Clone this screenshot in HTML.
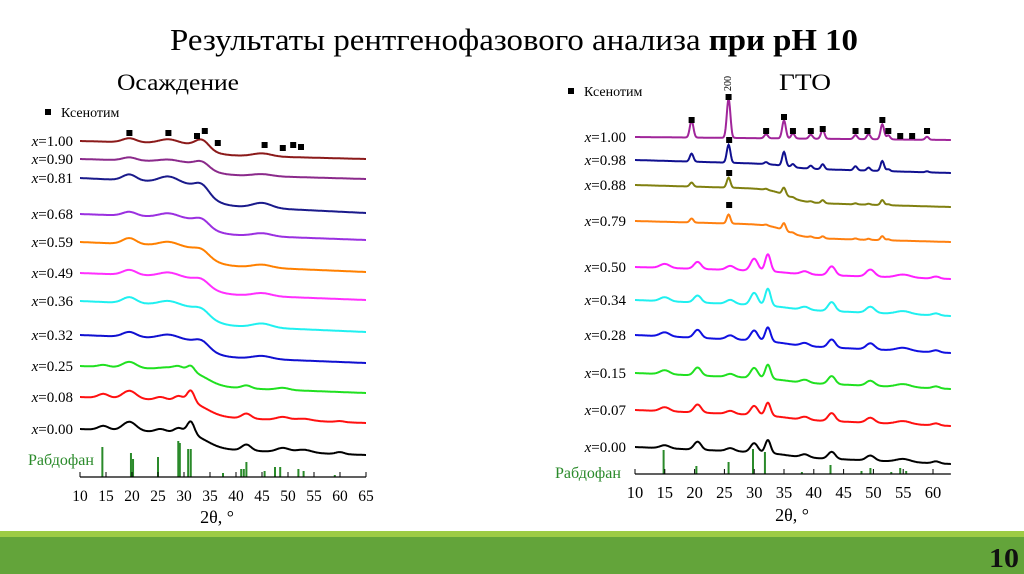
<!DOCTYPE html>
<html><head><meta charset="utf-8"><style>
html,body{margin:0;padding:0;background:#fff;width:1024px;height:574px;overflow:hidden}
text{font-family:"Liberation Serif",serif}
</style></head><body>
<svg id="svg" width="1024" height="574" viewBox="0 0 1024 574" xmlns="http://www.w3.org/2000/svg">
<text x="170" y="50" font-size="31" textLength="688" lengthAdjust="spacingAndGlyphs">Результаты рентгенофазового анализа <tspan font-weight="bold">при pH 10</tspan></text>
<text x="117" y="90" font-size="23" textLength="122" lengthAdjust="spacingAndGlyphs">Осаждение</text>
<text x="779" y="90" font-size="23" textLength="52" lengthAdjust="spacingAndGlyphs">ГТО</text>
<g id="left"></g>
<g id="right"></g>
<rect x="0" y="531" width="1024" height="6" fill="#9dcb45"/>
<rect x="0" y="537" width="1024" height="37" fill="#63a43a"/>
<text x="1004" y="567" font-size="27" font-weight="bold" text-anchor="middle" fill="#111" textLength="30" lengthAdjust="spacingAndGlyphs">10</text>
</svg>
<script>
// ---- Left chart data (Осаждение) ----
const leftLabels = ["1.00","0.90","0.81","0.68","0.59","0.49","0.36","0.32","0.25","0.08","0.00"];
const leftColors = ["#8b1a1a","#8b2a8b","#1a1a8b","#9b30e0","#ff8000","#ff30ff","#20f0f0","#1010d0","#20e020","#ff1010","#000000"];
const leftStart = [141,159,178,214,242,273,301,335,366,397,429];
const leftEnd = [159,179,213,240,272,300,332,363,393,423,455];
const leftPeakPos = [19.5,27,33.5,45,14.5,25.5,29,31.3,42,49,53,60];
const leftPeakH = [
 [4,4,8,3,0,0,0,0,0,0,0,0],
 [3,2,5,2,0,0,0,0,0,0,0,0],
 [6,6,7,5,0,0,0,0,0,0,0,0],
 [4,4,5,3,0,0,0,0,0,0,0,0],
 [6,4,4,3,0,0,0,0,0,0,0,0],
 [5,4,4,3,0,0,0,0,0,0,0,0],
 [6,4,4,4,0,0,0,0,0,0,0,0],
 [5,4,5,3,0,0,0,0,0,0,0,0],
 [6,2,0,0,2,0,3,6,3,2,0,0],
 [8,0,0,0,4,3,5,12,5,3,2,1],
 [9,0,0,0,4,3,5,13,6,4,3,2]
];
const leftRhabPos = [14.3,19.8,20.2,25,28.9,29.2,30.8,31.3,37.5,41,41.5,42,45.5,47.5,48.5,52,53,59];
const leftRhabH = [30,24,18,20,36,34,28,28,4,8,8,15,6,10,10,8,6,2];
const leftXenoPos = [19.5,27,32.5,34,36.5,45.5,49,51,52.5];
const leftXenoY = [133,133,136,131,143,145,148,145,147];
const leftTicks = [10,15,20,25,30,35,40,45,50,55,60,65];

// ---- Right chart data (ГТО) ----
const rightLabels = ["1.00","0.98","0.88","0.79","0.50","0.34","0.28","0.15","0.07","0.00"];
const rightColors = ["#a0259a","#101090","#808010","#ff8010","#ff20ff","#20f0f0","#1010e0","#20e020","#ff1010","#000000"];
const rightStart = [137,160,185,221,267,300,335,373,410,447];
const rightEnd = [140,173,207,242,279,316,353,389,426,464];
const rightStep = [0,0.3,0.6,0.6,0.2,0.2,0.2,0.2,0.2,0.2];
const rightPeakPos = [19.5,25.7,32,35,36.5,39.5,41.5,47,49.2,51.5,52.5,59, 15,20.5,26,30,32.3,38.5,43,49.5,55,60.5];
const rightPeakH = [
 [17,39,4,18,5,4,9,4,5,15,4,3, 0,0,0,0,0,0,0,0,0,0],
 [8,18,2,14,3,3,5,4,3,10,2,1, 0,0,0,0,0,0,0,0,0,0],
 [4,10,1,7,1,1,3,1,1,5,1,0, 0,0,0,0,0,0,0,0,0,0],
 [4,9,1,7,1,1,2,1,1,4,1,0, 0,0,0,0,0,0,0,0,0,0],
 [0,0,0,0,0,0,0,0,0,0,0,0, 4,7,4,12,17,3,9,7,3,2],
 [0,0,0,0,0,0,0,0,0,0,0,0, 4,7,4,12,17,3,9,6,3,2],
 [0,0,0,0,0,0,0,0,0,0,0,0, 4,8,4,10,14,3,8,6,3,2],
 [0,0,0,0,0,0,0,0,0,0,0,0, 4,8,3,10,14,3,8,5,3,2],
 [0,0,0,0,0,0,0,0,0,0,0,0, 4,8,3,9,13,3,8,5,3,2],
 [0,0,0,0,0,0,0,0,0,0,0,0, 3,8,3,9,13,3,7,5,3,2]
];
const rightPeakW = [0.3,0.3,0.3,0.3,0.3,0.3,0.3,0.3,0.3,0.3,0.3,0.3, 0.8,0.6,0.7,0.6,0.45,0.7,0.6,0.7,1.2,0.6];
const rightRhabPos = [14.8,20.3,25.7,29.8,31.8,38,42.8,48,49.5,53,54.5,55.5];
const rightRhabH = [24,8,12,25,22,2,9,3,6,2,6,3];
const rightXenoPos = [19.5,25.7,32,35,36.5,39.5,41.5,47,49,51.5,52.5,54.5,56.5,59,25.8,25.8,25.8];
const rightXenoY = [120,97,131,117,131,131,129,131,131,120,131,136,136,131,140,173,205];
const rightTicks = [10,15,20,25,30,35,40,45,50,55,60];

const NS="http://www.w3.org/2000/svg";
function mk(parent,tag,attrs,text){const e=document.createElementNS(NS,tag);for(const k in attrs)e.setAttribute(k,attrs[k]);if(text!==undefined)e.textContent=text;parent.appendChild(e);return e;}
function sig(z){return 1/(1+Math.exp(-z));}

function drawChart(g,cfg){
  const X=cfg.X;
  cfg.labels.forEach((lab,i)=>{
    let d="";
    for(let v=cfg.min;v<=cfg.max+1e-9;v+=0.1){
      const t=(v-cfg.min)/(cfg.max-cfg.min);
      const sf=cfg.step[i];
      let y=cfg.start[i]+(cfg.end[i]-cfg.start[i])*(sf*sig((v-cfg.stepAt)/1.5)+(1-sf)*t);
      cfg.peakPos.forEach((p,k)=>{const h=cfg.peakH[i][k];if(h){const w=cfg.peakW[k];y-=h*Math.exp(-(v-p)*(v-p)/(2*w*w));}});
      d+=(d?"L":"M")+X(v).toFixed(1)+","+y.toFixed(1);
    }
    const p=mk(g,"path",{d:d,fill:"none",stroke:cfg.colors[i],"stroke-width":"2"});
    
    
    const tx=mk(g,"text",{x:cfg.labelX,y:cfg.start[i]+5,"font-size":"15","text-anchor":"end"});
    
    
    mk(tx,"tspan",{"font-style":"italic"},"x");
    mk(tx,"tspan",{},"="+lab);
  });
  cfg.rhabPos.forEach((p,k)=>{
    const l=mk(g,"line",{x1:X(p),x2:X(p),y1:cfg.axisY,y2:cfg.axisY-cfg.rhabH[k],stroke:"#2a8a2a","stroke-width":"2"});
    
    
  });
  const rl=mk(g,"text",{x:cfg.rhabX,y:cfg.rhabY,"font-size":"16",fill:"#2a8a2a"},"Рабдофан");
  
  
  cfg.xenoPos.forEach((p,k)=>{
    const r=mk(g,"rect",{x:X(p)-3,y:cfg.xenoY[k]-3,width:6,height:6,fill:"#000"});
    
    
  });
  const lm=mk(g,"rect",{x:cfg.legX-3,y:cfg.legY-8,width:6,height:6,fill:"#000"});
  
  
  const lt=mk(g,"text",{x:cfg.legX+13,y:cfg.legY,"font-size":"14"},"Ксенотим");
  
  
  const ax=mk(g,"line",{x1:X(cfg.min),x2:X(cfg.max),y1:cfg.axisY,y2:cfg.axisY,stroke:"#000","stroke-width":"1.2"});
  
  
  cfg.ticks.forEach(t=>{
    mk(g,"line",{x1:X(t),x2:X(t),y1:cfg.axisY,y2:cfg.axisY-5,stroke:"#000","stroke-width":"1"});
    const tl=mk(g,"text",{x:X(t),y:cfg.axisY+cfg.tickDy,"font-size":cfg.tickFs,"text-anchor":"middle"},String(t));
    
    
  });
  const at=mk(g,"text",{x:cfg.titleX,y:cfg.titleY,"font-size":"18","text-anchor":"middle"},"2θ, °");
  
  
}

drawChart(document.getElementById('left'),{
  X:v=>80+(v-10)*286/55,min:10,max:65,stepAt:34.5,
  labels:leftLabels,colors:leftColors,start:leftStart,end:leftEnd,
  step:leftLabels.map(()=>0.6),
  peakPos:leftPeakPos,peakH:leftPeakH,peakW:[1.3,1.8,1.3,1.8,1.0,1.0,0.9,0.7,0.9,1.2,1.5,0.8],
  rhabPos:leftRhabPos,rhabH:leftRhabH,rhabX:28,rhabY:465,
  xenoPos:leftXenoPos,xenoY:leftXenoY,legX:48,legY:117,
  labelX:73,axisY:477,ticks:leftTicks,tickDy:24,tickFs:"15.5",titleX:217,titleY:523
});
drawChart(document.getElementById('right'),{
  X:v=>635+(v-10)*5.96,min:10,max:63,stepAt:35.5,
  labels:rightLabels,colors:rightColors,start:rightStart,end:rightEnd,step:rightStep,
  peakPos:rightPeakPos,peakH:rightPeakH,peakW:rightPeakW,
  rhabPos:rightRhabPos,rhabH:rightRhabH,rhabX:555,rhabY:478,
  xenoPos:rightXenoPos,xenoY:rightXenoY,legX:571,legY:96,
  labelX:626,axisY:474,ticks:rightTicks,tickDy:24,tickFs:"16.5",titleX:792,titleY:521
});
const lbl=mk(document.getElementById('right'),"text",{x:0,y:0,"font-size":"10",transform:"translate(731,91) rotate(-90)"},"200");


</script>
</body></html>
